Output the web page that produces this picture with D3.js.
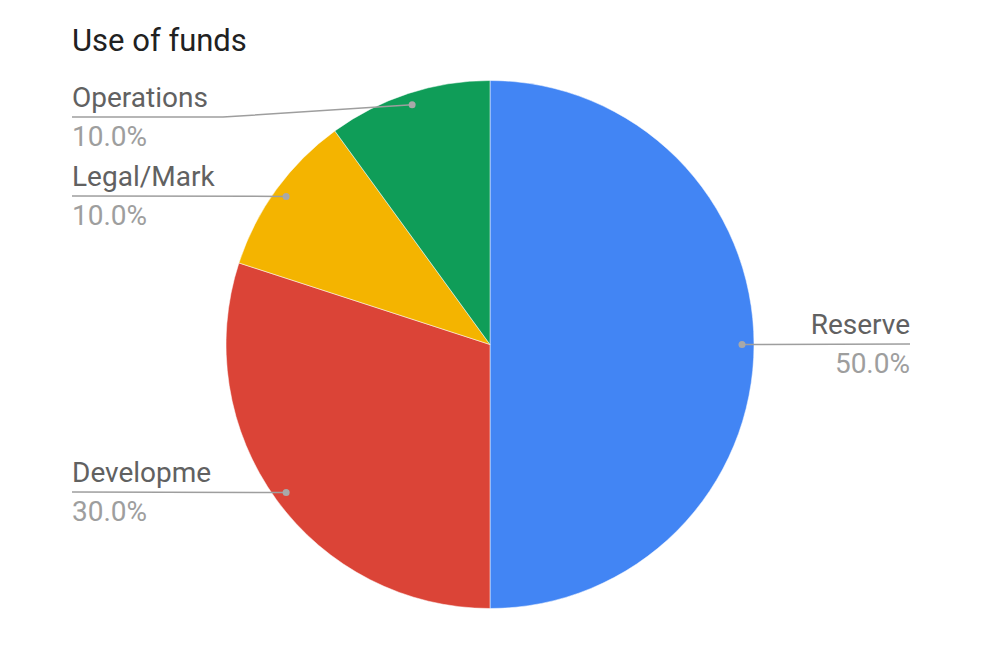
<!DOCTYPE html>
<html><head><meta charset="utf-8">
<script src="https://cdn.jsdelivr.net/npm/d3@7"></script>
<style>body{margin:0;background:#fff;}svg{display:block;font-family:Roboto,"Open Sans",sans-serif;}</style>
</head><body>
<svg id="c" width="990" height="645"></svg>
<script>
const categories = ["Reserve", "Developme", "Legal/Mark", "Operations"];
const values = [50, 30, 10, 10];
const colors = ["#4285f4", "#db4437", "#f4b400", "#0f9d58"];
const title = "Use of funds";

const svg = d3.select("#c");
const cx = 490, cy = 344.5, r = 264;
svg.append("rect").attr("width",990).attr("height",645).attr("fill","#fff");
svg.append("text").attr("x",72).attr("y",51).attr("font-size",31).attr("fill","#212121").text(title);

const pie = d3.pie().sort(null).value(d=>d)(values);
const arc = d3.arc().innerRadius(0).outerRadius(r);
const g = svg.append("g").attr("transform",`translate(${cx},${cy})`);
g.selectAll("path").data(pie).join("path")
  .attr("d",arc).attr("fill",(d,i)=>colors[i])
  .attr("stroke","#fff").attr("stroke-width",0.5);

const labelLineY = [344, 492, 196, 117];
const dotR = r - 12;
const total = d3.sum(values);
pie.forEach((d,i)=>{
  const a = (d.startAngle + d.endAngle)/2;
  const px = cx + dotR*Math.sin(a), py = cy - dotR*Math.cos(a);
  const right = a < Math.PI;
  const ly = labelLineY[i];
  const lx = right ? 910 : 72;
  let pts;
  if (right) pts = [[px,py],[lx,ly]];
  else if (Math.abs(py-ly) > 3) pts = [[px,py],[223,ly],[lx,ly]];
  else pts = [[px,py],[lx,ly]];
  svg.append("path").attr("d", d3.line()(pts)).attr("fill","none").attr("stroke","#9e9e9e").attr("stroke-width",1.5);
  svg.append("circle").attr("cx",px).attr("cy",py).attr("r",3.5).attr("fill","#a8a8a8");
  const anchor = right ? "end" : "start";
  svg.append("text").attr("x",lx).attr("y",ly-10).attr("text-anchor",anchor)
    .attr("font-size",28).attr("fill","#616161").text(categories[i]);
  svg.append("text").attr("x",lx).attr("y",ly+29).attr("text-anchor",anchor)
    .attr("font-size",28).attr("fill","#9e9e9e").text((values[i]/total*100).toFixed(1)+"%");
});
</script>
</body></html>
